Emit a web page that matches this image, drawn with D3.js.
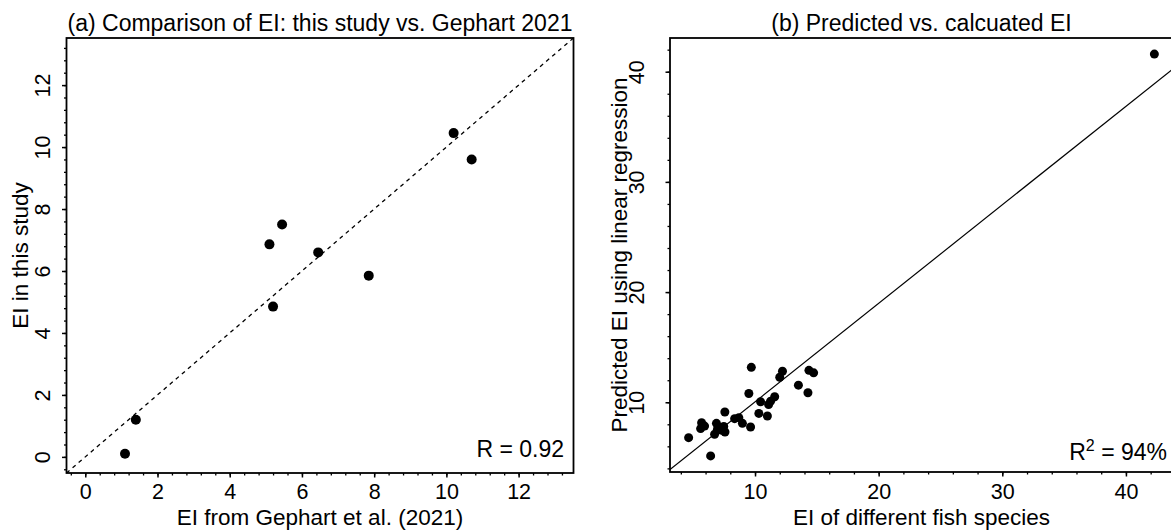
<!DOCTYPE html>
<html><head><meta charset="utf-8">
<script src="https://cdn.jsdelivr.net/npm/d3@7"></script>
<style>body{margin:0;background:#fff;overflow:hidden}svg{display:block}text{font-family:"Liberation Sans",Arial,Helvetica,sans-serif;fill:#000}</style>
</head><body>
<script>
// Panel (a): EI this study vs Gephart 2021
const aGephart = [1.1, 1.4, 5.1, 5.45, 5.2, 6.45, 7.85, 10.2, 10.7];
const aStudy   = [0.1, 1.2, 6.86, 7.5, 4.85, 6.6, 5.85, 10.45, 9.6];
const aLimits = [0, 13];
const aMajorTicks = [0, 2, 4, 6, 8, 10, 12];
const aTitle = "(a) Comparison of EI: this study vs. Gephart 2021";
const aXLabel = "EI from Gephart et al. (2021)";
const aYLabel = "EI in this study";
const aNote = "R = 0.92";

// Panel (b): predicted vs calculated EI
const bActual = [4.63, 5.6, 5.68, 5.92, 6.41, 6.73, 6.88, 6.96, 7.12, 7.32, 7.47, 7.57, 7.56, 8.35, 8.69, 8.98,
  9.5, 9.64, 9.7, 10.31, 10.45, 11.0, 11.1, 11.26, 11.59, 12.0, 12.22, 13.51, 14.28, 14.36, 14.74, 42.3];
const bPredicted = [6.79, 7.61, 8.15, 7.84, 5.13, 7.1, 8.09, 7.55, 7.7, 7.45, 7.8, 7.3, 9.12, 8.51, 8.6, 8.09,
  10.8, 7.75, 13.17, 8.99, 10.05, 8.75, 9.8, 10.1, 10.5, 12.27, 12.81, 11.55, 10.86, 12.9, 12.67, 41.6];
const bFit = [1.1, 0.894]; // intercept, slope
const bMajorTicks = [10, 20, 30, 40];
const bTitle = "(b) Predicted vs. calcuated EI";
const bXLabel = "EI of different fish species";
const bYLabel = "Predicted EI using linear regression";

const W = 1171, H = 532;
const svg = d3.select("body").append("svg").attr("width", W).attr("height", H);

function ext(lo, hi){ const r = hi - lo; return [lo - 0.04*r, hi + 0.04*r]; }
function minorTicks(dom, step){ const t=[]; const s=Math.ceil(dom[0]/step-1e-9); for(let i=s;i*step<=dom[1]+1e-9;i++) t.push(+(i*step).toFixed(6)); return t; }

function panel(cfg){
  const g = svg.append("g");
  const x = d3.scaleLinear().domain(cfg.xDom).range([cfg.left, cfg.right]);
  const y = d3.scaleLinear().domain(cfg.yDom).range([cfg.bottom, cfg.top]);
  const cid = "clip" + cfg.id;
  svg.append("clipPath").attr("id", cid).append("rect")
    .attr("x", cfg.left).attr("y", cfg.top).attr("width", cfg.right-cfg.left).attr("height", cfg.bottom-cfg.top);

  // minor ticks
  const xAxisMinor = d3.axisBottom(x).tickValues(minorTicks(cfg.xDom, cfg.minorStep)).tickSize(2.5).tickFormat("");
  const yAxisMinor = d3.axisLeft(y).tickValues(minorTicks(cfg.yDom, cfg.minorStep)).tickSize(2.5).tickFormat("");
  const mx = g.append("g").attr("transform", `translate(0,${cfg.bottom})`).call(xAxisMinor);
  const my = g.append("g").attr("transform", `translate(${cfg.left},0)`).call(yAxisMinor);
  [mx, my].forEach(s => { s.select(".domain").remove(); s.selectAll("text").remove(); s.selectAll("line").attr("stroke-width",1.3); });

  // major ticks
  const xAxis = d3.axisBottom(x).tickValues(cfg.major).tickSize(4.5).tickPadding(0).tickFormat(d3.format("d"));
  const yAxis = d3.axisLeft(y).tickValues(cfg.major).tickSize(4.5).tickPadding(0).tickFormat(d3.format("d"));
  const gx = g.append("g").attr("transform", `translate(0,${cfg.bottom})`).call(xAxis);
  gx.select(".domain").remove();
  gx.selectAll("line").attr("stroke-width",1.5);
  gx.selectAll("text").attr("y", cfg.xTickBase - cfg.bottom).attr("dy", null)
    .style("font-size", cfg.tickFs + "px").style("font-family", '"Liberation Sans",Arial,sans-serif');
  const gy = g.append("g").attr("transform", `translate(${cfg.left},0)`).call(yAxis);
  gy.select(".domain").remove();
  gy.selectAll("line").attr("stroke-width",1.5);
  gy.selectAll("text").attr("x", null).attr("y", null).attr("dy", null).attr("text-anchor","middle")
    .attr("transform", `translate(${cfg.yTickBase - cfg.left},0) rotate(-90)`)
    .style("font-size", cfg.tickFs + "px").style("font-family", '"Liberation Sans",Arial,sans-serif');

  // reference line
  const lineG = g.append("g").attr("clip-path", `url(#${cid})`);
  const [b0, b1] = cfg.line;
  const lx0 = cfg.xDom[0], lx1 = cfg.xDom[1];
  lineG.append("line").attr("x1", x(lx0)).attr("y1", y(b0 + b1*lx0)).attr("x2", x(lx1)).attr("y2", y(b0 + b1*lx1))
    .attr("stroke", "#000").attr("stroke-width", cfg.dash ? 1.3 : 1.2).attr("stroke-dasharray", cfg.dash || null);

  // points
  g.append("g").selectAll("circle").data(cfg.xs.map((v,i)=>[v, cfg.ys[i]])).join("circle")
    .attr("cx", d=>x(d[0])).attr("cy", d=>y(d[1])).attr("r", cfg.r).attr("fill", "#000");

  // box
  g.append("rect").attr("x", cfg.left).attr("y", cfg.top).attr("width", cfg.right-cfg.left).attr("height", cfg.bottom-cfg.top)
    .attr("fill","none").attr("stroke","#000").attr("stroke-width",1.8);

  // titles
  g.append("text").attr("x", (cfg.left+cfg.right)/2).attr("y", cfg.titleBase).attr("text-anchor","middle")
    .style("font-size", cfg.titleFs+"px").text(cfg.title);
  g.append("text").attr("x", (cfg.left+cfg.right)/2).attr("y", cfg.xLabBase).attr("text-anchor","middle")
    .style("font-size", cfg.labFs+"px").text(cfg.xLabel);
  g.append("text").attr("transform", `translate(${cfg.yLabBase},${(cfg.top+cfg.bottom)/2}) rotate(-90)`).attr("text-anchor","middle")
    .style("font-size", cfg.labFs+"px").text(cfg.yLabel);
  return g;
}

const ga = panel({
  id: "a", left: 66.5, right: 573.5, top: 38, bottom: 473,
  xDom: ext(aLimits[0], aLimits[1]), yDom: ext(aLimits[0], aLimits[1]),
  major: aMajorTicks, minorStep: 0.4, xs: aGephart, ys: aStudy, r: 5,
  line: [0, 1], dash: "4,4",
  title: aTitle, xLabel: aXLabel, yLabel: aYLabel,
  tickFs: 21.5, labFs: 22.5, titleFs: 23,
  xTickBase: 499, yTickBase: 50, titleBase: 31, xLabBase: 525, yLabBase: 28
});
ga.append("text").attr("x", 564).attr("y", 457).attr("text-anchor","end").style("font-size","23px").text(aNote);

const gb = panel({
  id: "b", left: 670, right: 1173, top: 38, bottom: 472,
  xDom: ext(d3.min(bActual), d3.max(bActual)), yDom: ext(d3.min(bPredicted), d3.max(bPredicted)),
  major: bMajorTicks, minorStep: 2, xs: bActual, ys: bPredicted, r: 4.5,
  line: bFit, dash: null,
  title: bTitle, xLabel: bXLabel, yLabel: bYLabel,
  tickFs: 21.5, labFs: 22.5, titleFs: 23,
  xTickBase: 499, yTickBase: 644, titleBase: 31, xLabBase: 525, yLabBase: 627
});
const rt = gb.append("text").attr("x", 1167).attr("y", 460).attr("text-anchor","end").style("font-size","23px");
rt.append("tspan").text("R");
rt.append("tspan").attr("dy", -9).style("font-size","16px").text("2");
rt.append("tspan").attr("dy", 9).text(" = 94%");
</script>
</body></html>
